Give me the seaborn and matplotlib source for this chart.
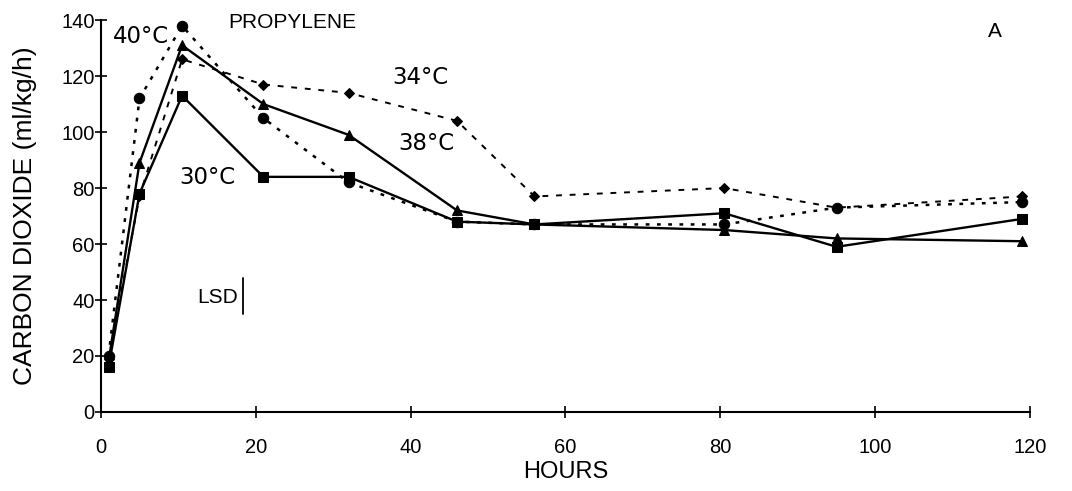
import matplotlib
matplotlib.use("Agg")
import matplotlib.pyplot as plt
import seaborn as sns
import pandas as pd

hours = [1, 5, 10.5, 21, 32, 46, 56, 80.5, 95, 119]
co2_30 = [16, 78, 113, 84, 84, 68, 67, 71, 59, 69]
co2_38 = [18, 89, 131, 110, 99, 72, 67, 65, 62, 61]
co2_34 = [19, 77, 126, 117, 114, 104, 77, 80, 73, 77]
co2_40 = [20, 112, 138, 105, 82, 68, 67, 67, 73, 75]
series_names = ["30°C", "38°C", "34°C", "40°C"]
x_ticks = [0, 20, 40, 60, 80, 100, 120]
y_ticks = [0, 20, 40, 60, 80, 100, 120, 140]
lsd_range = [35, 48]

sns.set_theme(style="white")
plt.rcParams['font.family'] = ['Liberation Sans', 'DejaVu Sans']
plt.rcParams['text.color'] = 'black'

fig = plt.figure(figsize=(10.72, 4.91), dpi=100)
ax = fig.add_axes([0.094, 0.161, 0.867, 0.798])

data = {"30°C": co2_30, "38°C": co2_38, "34°C": co2_34, "40°C": co2_40}
styles = {
    "30°C": dict(marker="s", linestyle="-", lw=1.7, ms=7),
    "38°C": dict(marker="^", linestyle="-", lw=1.7, ms=7.5),
    "34°C": dict(marker="D", linestyle=(0, (3, 4)), lw=1.4, ms=5.5),
    "40°C": dict(marker="o", linestyle=(0, (1.5, 3)), lw=1.8, ms=7.5),
}
for name in series_names:
    df = pd.DataFrame({"HOURS": hours, "CO2": data[name]})
    st = styles[name]
    sns.lineplot(data=df, x="HOURS", y="CO2", ax=ax, color="black",
                 marker=st["marker"], linestyle=st["linestyle"], linewidth=st["lw"],
                 markersize=st["ms"], markeredgecolor="black", markerfacecolor="black",
                 legend=False)

ax.set_xlim(0, 120)
ax.set_ylim(0, 140)
ax.set_xticks(x_ticks)
ax.set_yticks(y_ticks)
ax.tick_params(axis="both", direction="inout", length=9, width=1.2, labelsize=14.5,
               color="black", labelcolor="black", left=True, bottom=True)
ax.tick_params(axis="x", pad=14)
ax.tick_params(axis="y", pad=0)
for s in ["top", "right"]:
    ax.spines[s].set_visible(False)
for s in ["left", "bottom"]:
    ax.spines[s].set_color("black")
    ax.spines[s].set_linewidth(1.5)
ax.set_xlabel("HOURS", fontsize=17, color="black")
ax.xaxis.set_label_coords(0.5, -0.124)
ax.set_ylabel("CARBON DIOXIDE (ml/kg/h)", fontsize=19, color="black")
ax.yaxis.set_label_coords(-0.069, 0.5)

tfam = ['DejaVu Sans']
tsize = 16.5
ax.text(1.55, 134, "40°C", fontsize=tsize, family=tfam, ha="left", va="center")
ax.text(16.4, 139.3, "PROPYLENE", fontsize=15, ha="left", va="center")
ax.text(114.5, 136, "A", fontsize=15, ha="left", va="center")
ax.text(37.6, 119.6, "34°C", fontsize=tsize, family=tfam, ha="left", va="center")
ax.text(38.4, 96, "38°C", fontsize=tsize, family=tfam, ha="left", va="center")
ax.text(10.2, 83.6, "30°C", fontsize=tsize, family=tfam, ha="left", va="center")
ax.text(17.7, 41, "LSD", fontsize=15, ha="right", va="center")
ax.plot([18.35, 18.35], lsd_range, color="black", lw=1.3)

fig.savefig("out.png", dpi=100)
